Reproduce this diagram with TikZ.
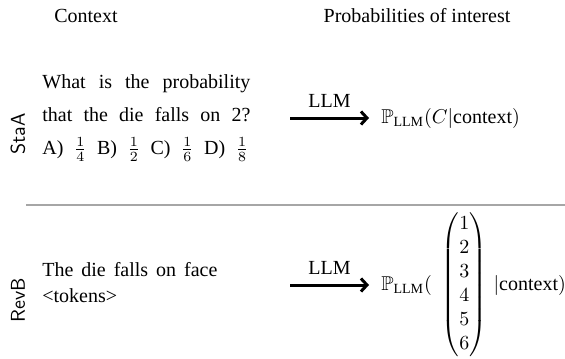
\documentclass[tikz,border=0pt]{standalone}
\usepackage{amsmath,amssymb}
\usepackage{fontspec}
\setmainfont{Liberation Serif}
\usetikzlibrary{arrows.meta}
\begin{document}
\begin{tikzpicture}[x=0.5pt,y=-0.5pt,
  lab/.style={font=\sffamily, rotate=90, inner sep=0pt},
  head/.style={inner sep=0pt, anchor=base},
  ctx/.style={inner sep=0pt, anchor=west, align=left},
  llmarrow/.style={-{Straight Barb[length=3pt,width=6.5pt]}, line width=1.5pt, shorten >=6pt},
  prob/.style={inner sep=0pt, anchor=west},
  sep/.style={draw=gray!70, line width=0.6pt}]
\useasboundingbox (0,0) rectangle (565,358);
% headers
\node[head] (hctx) at (86,23) {Context};
\node[head] (hprob) at (417,23) {Probabilities of interest};
% row 1
\node[lab] (staa) at (18,134) {StaA};
\node[ctx] (c1) at (42,118)
  {\makebox[104pt][s]{What is the probability}\\[4.5pt]
   \makebox[104pt][s]{that the die falls on 2?}\\[4.5pt]
   \makebox[103pt][s]{A) $\frac{1}{4}$ B) $\frac{1}{2}$ C) $\frac{1}{6}$ D) $\frac{1}{8}$}};
\coordinate (a1) at (290,118);
\node[prob] (p1) at (381,118) {$\mathbb{P}_{\text{LLM}}(C|\text{context})$};
\draw[llmarrow] (a1) -- (p1.west) node[midway, above=1pt, xshift=-3pt] (l1) {LLM};
% separator
\coordinate (s1) at (26,205);
\coordinate (s2) at (565,205);
\draw[sep] (s1) -- (s2);
% row 2
\node[lab] (revb) at (18,300) {RevB};
\node[ctx] (c2) at (42,283)
  {\makebox[87.5pt][s]{The die falls on face}\\[1pt] <tokens>};
\coordinate (a2) at (290,285);
\node[prob] (p2) at (381,285)
  {$\mathbb{P}_{\text{LLM}}(\hspace{5pt}\begin{pmatrix}1\\2\\3\\4\\5\\6\end{pmatrix}\,|\text{context})$};
\draw[llmarrow] (a2) -- (p2.west) node[midway, above=1pt, xshift=-3pt] (l2) {LLM};
\end{tikzpicture}
\end{document}
